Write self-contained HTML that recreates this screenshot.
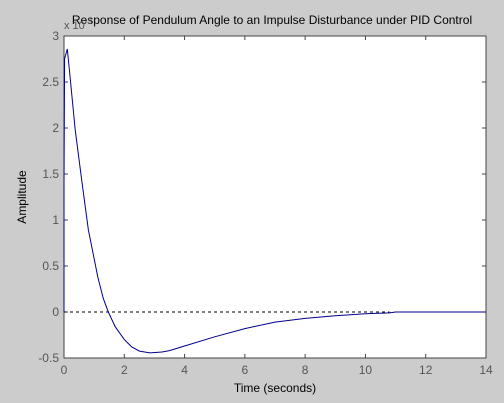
<!DOCTYPE html>
<html><head><meta charset="utf-8"><style>
body{margin:0;background:#cccccc;}
svg{display:block;font-family:"Liberation Sans",sans-serif;}
</style></head><body>
<svg id="chart" width="504" height="403" viewBox="0 0 504 403">
<rect x="0" y="0" width="504" height="403" fill="#cccccc"/>
<rect x="64" y="36" width="422" height="322" fill="#fff" stroke="#444" stroke-width="1"/>
<g id="ticks"></g>
<line id="zero-line" stroke="#000" stroke-dasharray="3,3" stroke-width="1"/>
<path id="curve" fill="none" stroke="#00008b" stroke-width="1"/>
<text x="272" y="24" font-size="12" text-anchor="middle" fill="#000">Response of Pendulum Angle to an Impulse Disturbance under PID Control</text>
<text x="64" y="29" font-size="11" fill="#555">x 10<tspan dy="-5" font-size="8">-3</tspan></text>
<text x="275" y="392" font-size="12" text-anchor="middle" fill="#000">Time (seconds)</text>
<text x="26" y="197" font-size="12" text-anchor="middle" fill="#000" transform="rotate(-90 26 197)">Amplitude</text>
</svg>
<script>
const times=[0,0,0.02,0.11,0.18,0.37,0.6,0.81,1.12,1.3,1.47,1.7,2,2.25,2.5,2.85,3.25,3.5,4,5,6,7,8,9,10,10.8,11,14];
const values=[0,1.4,2.75,2.86,2.63,1.98,1.4,0.89,0.38,0.15,0,-0.16,-0.3,-0.38,-0.425,-0.445,-0.435,-0.42,-0.37,-0.27,-0.18,-0.11,-0.07,-0.04,-0.02,-0.01,0,0];
const xTicks=[0,2,4,6,8,10,12,14];
const yTicks=[-0.5,0,0.5,1,1.5,2,2.5,3];
const yLabels=["-0.5","0","0.5","1","1.5","2","2.5","3"];
const X=t=>64+(t/14)*422;
const Y=v=>358-((v+0.5)/3.5)*322;
const NS="http://www.w3.org/2000/svg";
const g=document.getElementById('ticks');
function mk(tag,a){const e=document.createElementNS(NS,tag);for(const k in a)e.setAttribute(k,a[k]);g.appendChild(e);return e;}
xTicks.forEach(t=>{
  const x=X(t);
  const l1=mk('line',{x1:x,x2:x,y1:358,y2:354,stroke:'#444'});
  
  
  const l2=mk('line',{x1:x,x2:x,y1:36,y2:40,stroke:'#444'});
  
  
  const tx=mk('text',{x:x,y:374,'font-size':12,'text-anchor':'middle',fill:'#555'});
  tx.textContent=t;
  
  
});
yTicks.forEach((v,i)=>{
  const y=Y(v);
  const l1=mk('line',{x1:64,x2:68,y1:y,y2:y,stroke:'#444'});
  
  
  const l2=mk('line',{x1:486,x2:482,y1:y,y2:y,stroke:'#444'});
  
  
  const tx=mk('text',{x:59,y:y+4,'font-size':12,'text-anchor':'end',fill:'#555'});
  tx.textContent=yLabels[i];
  
  
});
const z=document.getElementById('zero-line');
z.setAttribute('x1',X(0));z.setAttribute('x2',X(10.8));z.setAttribute('y1',Y(0));z.setAttribute('y2',Y(0));
document.getElementById('curve').setAttribute('d',times.map((t,i)=>(i?'L':'M')+X(t).toFixed(1)+','+Y(values[i]).toFixed(1)).join(''));
</script>
</body></html>
